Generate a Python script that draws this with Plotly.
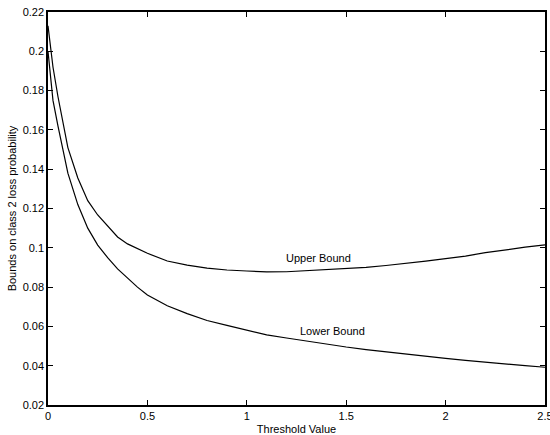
import plotly.graph_objects as go

threshold = [0, 0.025, 0.05, 0.1, 0.15, 0.2, 0.25, 0.3, 0.35, 0.4, 0.45, 0.5, 0.6, 0.7, 0.8, 0.9,
             1.0, 1.1, 1.2, 1.3, 1.4, 1.5, 1.6, 1.7, 1.8, 1.9, 2.0, 2.1, 2.2, 2.3, 2.4, 2.5]
upper_bound = [0.213, 0.192, 0.177, 0.151, 0.1355, 0.124, 0.1167, 0.111, 0.1055, 0.102, 0.0995, 0.0972,
               0.0933, 0.0912, 0.0897, 0.0887, 0.0882, 0.0877, 0.0878, 0.0884, 0.0888, 0.0893, 0.0900,
               0.0910, 0.0920, 0.0932, 0.0945, 0.0958, 0.0975, 0.0990, 0.1003, 0.1015]
lower_bound = [0.200, 0.175, 0.162, 0.138, 0.122, 0.110, 0.1014, 0.095, 0.0893, 0.0845, 0.080, 0.076,
               0.0705, 0.0665, 0.063, 0.0605, 0.058, 0.0557, 0.0541, 0.0525, 0.0510, 0.0495, 0.0482,
               0.0470, 0.0458, 0.0447, 0.0437, 0.0427, 0.0417, 0.0408, 0.0400, 0.0392]

x_ticks = [0, 0.5, 1, 1.5, 2, 2.5]
x_tick_text = ["0", "0.5", "1", "1.5", "2", "2.5"]
y_ticks = [0.02, 0.04, 0.06, 0.08, 0.1, 0.12, 0.14, 0.16, 0.18, 0.2, 0.22]
y_tick_text = ["0.02", "0.04", "0.06", "0.08", "0.1", "0.12", "0.14", "0.16", "0.18", "0.2", "0.22"]

labels = [("Upper Bound", 1.36, 0.0948), ("Lower Bound", 1.43, 0.0577)]

font_family = "Liberation Sans, Arial, sans-serif"

fig = go.Figure()
fig.add_trace(go.Scatter(x=threshold, y=upper_bound, mode="lines",
                         line=dict(color="black", width=1.2), showlegend=False))
fig.add_trace(go.Scatter(x=threshold, y=lower_bound, mode="lines",
                         line=dict(color="black", width=1.2), showlegend=False))

for text, lx, ly in labels:
    fig.add_annotation(x=lx, y=ly, text=text, showarrow=False,
                       font=dict(family=font_family, size=11, color="black"))

axis_common = dict(showgrid=False, zeroline=False, showline=True, linecolor="black", linewidth=1.5,
                   mirror="ticks", ticks="inside", ticklen=5, tickcolor="black",
                   ticklabeloverflow="allow", automargin=False,
                   tickfont=dict(family=font_family, size=11, color="black"))

fig.update_xaxes(range=[0, 2.5], tickvals=x_ticks, ticktext=x_tick_text,
                 title=dict(text="Threshold Value", font=dict(family=font_family, size=11, color="black"),
                            standoff=4),
                 **axis_common)
fig.update_yaxes(range=[0.02, 0.22], tickvals=y_ticks, ticktext=y_tick_text,
                 title=dict(text="Bounds on class 2 loss probability",
                            font=dict(family=font_family, size=11, color="black"), standoff=4),
                 **axis_common)

fig.update_layout(width=550, height=435, margin=dict(l=48, r=5, t=12, b=30),
                  plot_bgcolor="white", paper_bgcolor="white",
                  font=dict(family=font_family, size=11, color="black"))

fig.write_html("out.html")
